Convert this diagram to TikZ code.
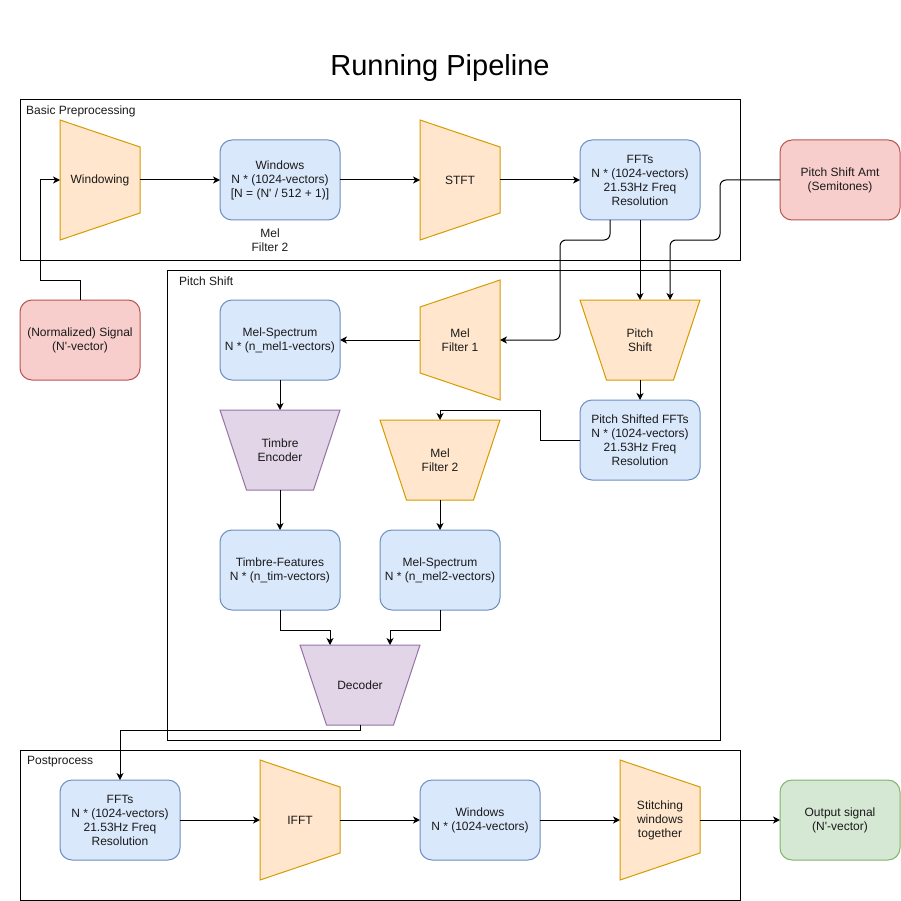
\documentclass[tikz,border=0pt]{standalone}
\usepackage{fontspec}
\setmainfont{Liberation Sans}[Ligatures=TeXOff]
\usetikzlibrary{arrows.meta}
\definecolor{bfill}{HTML}{DAE8FC}\definecolor{bline}{HTML}{6C8EBF}
\definecolor{ofill}{HTML}{FFE6CC}\definecolor{oline}{HTML}{D79B00}
\definecolor{rfill}{HTML}{F8CECC}\definecolor{rline}{HTML}{B85450}
\definecolor{pfill}{HTML}{E1D5E7}\definecolor{pline}{HTML}{9673A6}
\definecolor{gfill}{HTML}{D5E8D4}\definecolor{gline}{HTML}{82B366}
\definecolor{txt}{HTML}{1A1A1A}
\tikzset{
  txtfont/.style={font=\fontsize{12}{14}\selectfont, text=txt},
  box/.style={draw, line width=1pt, rounded corners=12pt, minimum width=120pt, minimum height=80pt,
    inner sep=0pt, outer sep=0pt, align=center, txtfont},
  bluebox/.style={box, fill=bfill, draw=bline},
  redbox/.style={box, fill=rfill, draw=rline},
  greenbox/.style={box, fill=gfill, draw=gline},
  trapo/.style={fill=ofill, draw=oline, line width=1pt},
  trapp/.style={fill=pfill, draw=pline, line width=1pt},
  tlabel/.style={inner sep=0pt, outer sep=0pt, align=center, txtfont},
  group/.style={draw=black, line width=1pt},
  grouplabel/.style={inner sep=0pt, anchor=base west, txtfont},
  conn/.style={draw=black, line width=1pt},
  arr/.style={conn, -{Stealth[length=7pt,width=7pt,inset=2pt]}},
}
\begin{document}
\begin{tikzpicture}[x=1pt,y=-1pt]
\fill[white] (0,0) rectangle (901,901);
\useasboundingbox (0,0) rectangle (901,901);

% title
\node[inner sep=0pt, anchor=base, font=\fontsize{29}{34}\selectfont] (title) at (440,76) {Running Pipeline};

% groups
\draw[group] (20,100) rectangle (740,260);
\node[grouplabel] (gl1) at (26,115) {Basic Preprocessing};
\draw[group] (167,270) rectangle (720,740);
\node[grouplabel] (gl2) at (179,285) {Pitch Shift};
\draw[group] (20,750) rectangle (740,900);
\node[grouplabel] (gl3) at (27,764) {Postprocess};

% trapezoid shapes
\filldraw[trapo] (60,120) -- (140,147) -- (140,213) -- (60,240) -- cycle;
\filldraw[trapo] (420,120) -- (500,147) -- (500,213) -- (420,240) -- cycle;
\filldraw[trapo] (420,307) -- (500,280) -- (500,400) -- (420,373) -- cycle;
\filldraw[trapo] (580,300) -- (700,300) -- (673.5,380) -- (606.5,380) -- cycle;
\filldraw[trapp] (220,410) -- (340,410) -- (313.5,490) -- (246.5,490) -- cycle;
\filldraw[trapo] (380,420) -- (500,420) -- (473.5,500) -- (406.5,500) -- cycle;
\filldraw[trapp] (300,645) -- (420,645) -- (393.5,725) -- (326.5,725) -- cycle;
\filldraw[trapo] (260,760) -- (340,787) -- (340,853) -- (260,880) -- cycle;
\filldraw[trapo] (620,760) -- (700,787) -- (700,853) -- (620,880) -- cycle;

% trapezoid labels (named nodes spanning each shape)
\node[tlabel, minimum width=80pt, minimum height=120pt] (win) at (100,180) {Windowing};
\node[tlabel, minimum width=80pt, minimum height=120pt] (stft) at (460,180) {STFT};
\node[tlabel, minimum width=80pt, minimum height=120pt] (mf1) at (460,340) {Mel\\Filter 1};
\node[tlabel, minimum width=120pt, minimum height=80pt] (ps) at (640,340) {Pitch\\Shift};
\node[tlabel, minimum width=120pt, minimum height=80pt] (te) at (280,450) {Timbre\\Encoder};
\node[tlabel, minimum width=120pt, minimum height=80pt] (mf2) at (440,460) {Mel\\Filter 2};
\node[tlabel, minimum width=120pt, minimum height=80pt] (dec) at (360,685) {Decoder};
\node[tlabel, minimum width=80pt, minimum height=120pt] (ifft) at (300,820) {IFFT};
\node[tlabel, minimum width=80pt, minimum height=120pt] (stitch) at (660,820) {Stitching\\windows\\together};

% boxes
\node[bluebox] (wins) at (280,180) {Windows\\N * (1024-vectors)\\{[N = (N' / 512 + 1)]}};
\node[tlabel] (stray) at (270,240) {Mel\\Filter 2};
\node[bluebox] (ffts) at (640,180) {FFTs\\N * (1024-vectors)\\21.53Hz Freq\\Resolution};
\node[redbox] (amt) at (840,180) {Pitch Shift Amt\\(Semitones)};
\node[redbox] (sig) at (80,340) {(Normalized) Signal\\(N'-vector)};
\node[bluebox] (ms1) at (280,340) {Mel-Spectrum\\N * (n\_mel1-vectors)};
\node[bluebox] (psf) at (640,440) {Pitch Shifted FFTs\\N * (1024-vectors)\\21.53Hz Freq\\Resolution};
\node[bluebox] (tf) at (280,570) {Timbre-Features\\N * (n\_tim-vectors)};
\node[bluebox] (ms2) at (440,570) {Mel-Spectrum\\N * (n\_mel2-vectors)};
\node[bluebox] (pffts) at (120,820) {FFTs\\N * (1024-vectors)\\21.53Hz Freq\\Resolution};
\node[bluebox] (pwins) at (480,820) {Windows\\N * (1024-vectors)};
\node[greenbox] (out) at (840,820) {Output signal\\(N'-vector)};

% connectors
\draw[arr] (sig.north) -- (80,280) -- (40,280) -- (40,180) -- (win.west);
\draw[arr] (win.east) -- (wins.west);
\draw[arr] (wins.east) -- (stft.west);
\draw[arr] (stft.east) -- (ffts.west);
\draw[arr, rounded corners=6pt] ([xshift=-30pt]ffts.south) -- (610,240) -- (560,240) -- (560,340) -- (mf1.east);
\draw[arr] (ffts.south) -- (ps.north);
\draw[arr, rounded corners=6pt] (amt.west) -- (720,180) -- (720,240) -- (670,240) -- ([xshift=30pt]ps.north);
\draw[arr] (mf1.west) -- (ms1.east);
\draw[arr] (ps.south) -- (psf.north);
\draw[arr] (psf.west) -- (540,440) -- (540,410) -- (440,410) -- (mf2.north);
\draw[arr] (ms1.south) -- (te.north);
\draw[arr] (te.south) -- (tf.north);
\draw[arr] (mf2.south) -- (ms2.north);
\draw[arr] (tf.south) -- (280,630) -- (330,630) -- ([xshift=-30pt]dec.north);
\draw[arr] (ms2.south) -- (440,630) -- (390,630) -- ([xshift=30pt]dec.north);
\draw[arr] (dec.south) -- (360,730) -- (120,730) -- (pffts.north);
\draw[arr] (pffts.east) -- (ifft.west);
\draw[arr] (ifft.east) -- (pwins.west);
\draw[arr] (pwins.east) -- (stitch.west);
\draw[arr] (stitch.east) -- (out.west);
\end{tikzpicture}
\end{document}
